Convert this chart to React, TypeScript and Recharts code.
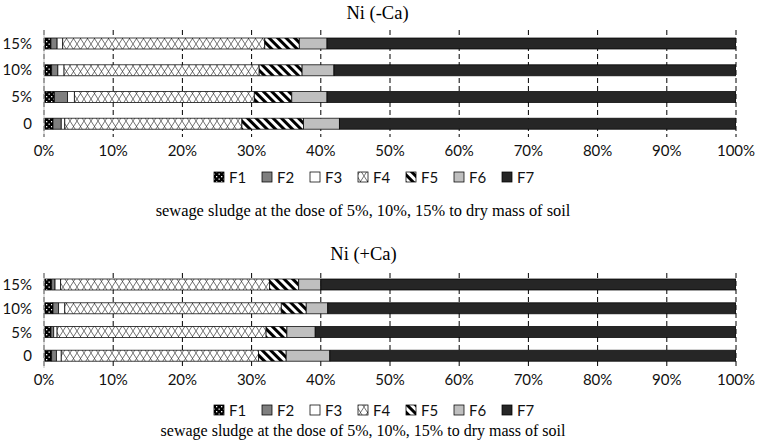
import { BarChart, Bar, XAxis, YAxis, CartesianGrid } from "recharts";

const categories = ["15%", "10%", "5%", "0"];
const fractions = ["F1", "F2", "F3", "F4", "F5", "F6", "F7"];
const xTicks = [0, 10, 20, 30, 40, 50, 60, 70, 80, 90, 100];

// Ni (-Ca), rows follow categories
const noCaF1 = [1.0, 1.1, 1.5, 1.3];
const noCaF2 = [0.9, 0.9, 1.9, 1.2];
const noCaF3 = [0.8, 0.9, 1.0, 0.5];
const noCaF4 = [29.2, 28.2, 26.0, 25.6];
const noCaF5 = [5.0, 6.2, 5.4, 8.9];
const noCaF6 = [4.0, 4.6, 5.1, 5.2];
const noCaF7 = [59.1, 58.1, 59.1, 57.3];

// Ni (+Ca)
const caF1 = [1.1, 1.3, 1.0, 1.1];
const caF2 = [0.5, 0.8, 0.4, 0.7];
const caF3 = [0.8, 0.9, 0.5, 0.7];
const caF4 = [30.2, 31.3, 30.2, 28.5];
const caF5 = [4.2, 3.6, 3.0, 4.0];
const caF6 = [3.2, 3.1, 4.1, 6.3];
const caF7 = [60.0, 59.0, 60.8, 58.7];

const fills: Record<string, string> = {
  F1: "url(#pF1)",
  F2: "#7f7f7f",
  F3: "#ffffff",
  F4: "url(#pF4)",
  F5: "url(#pF5)",
  F6: "#bfbfbf",
  F7: "#262626",
};

const buildRows = (cols: number[][]) =>
  categories.map((name, i) => {
    const row: Record<string, string | number> = { name };
    fractions.forEach((f, k) => (row[f] = cols[k][i]));
    return row;
  });

const noCaRows = buildRows([noCaF1, noCaF2, noCaF3, noCaF4, noCaF5, noCaF6, noCaF7]);
const caRows = buildRows([caF1, caF2, caF3, caF4, caF5, caF6, caF7]);

const tickFont = { fontFamily: "Lato", fontSize: 15, fill: "#111" };
const serif = "'Liberation Serif', 'Times New Roman', serif";

function Patterns() {
  return (
    <svg width={0} height={0} style={{ position: "absolute" }}>
      <defs>
        <pattern id="pF1" patternUnits="userSpaceOnUse" width={5} height={5}>
          <rect width={5} height={5} fill="#000" />
          <rect x={1} y={1} width={1.3} height={1.3} fill="#fff" />
          <rect x={3.5} y={3.5} width={1.3} height={1.3} fill="#fff" />
        </pattern>
        <pattern id="pF4" patternUnits="userSpaceOnUse" width={7} height={11}>
          <rect width={7} height={11} fill="#fff" />
          <line x1={0} y1={0} x2={7} y2={11} stroke="#333" strokeWidth={0.7} />
          <line x1={7} y1={0} x2={0} y2={11} stroke="#333" strokeWidth={0.7} />
        </pattern>
        <pattern id="pF5" patternUnits="userSpaceOnUse" width={6} height={6} patternTransform="rotate(-45)">
          <rect width={6} height={6} fill="#fff" />
          <rect width={3} height={6} fill="#000" />
        </pattern>
      </defs>
    </svg>
  );
}

function Panel({ rows, height, axisH, barSize, tickMargin }: {
  rows: Record<string, string | number>[]; height: number; axisH: number; barSize: number; tickMargin: number;
}) {
  return (
    <BarChart width={760} height={height} data={rows} layout="vertical" barSize={barSize}
      margin={{ top: 30, right: 24, left: 0, bottom: 0 }}>
      <CartesianGrid horizontal={false} stroke="#000" strokeDasharray="5 3" />
      <XAxis type="number" domain={[0, 100]} ticks={xTicks} interval={0} allowDataOverflow
        tickFormatter={(v) => `${v}%`} axisLine={false} tickLine={false} height={axisH}
        tickMargin={tickMargin} tick={tickFont} />
      <YAxis type="category" dataKey="name" width={44} axisLine={{ stroke: "#bfbfbf" }}
        tickLine={false} tickMargin={6} tick={tickFont} />
      {fractions.map((f) => (
        <Bar key={f} dataKey={f} stackId="a" fill={fills[f]} stroke="#000" strokeWidth={0.75}
          isAnimationActive={false} />
      ))}
    </BarChart>
  );
}

function Overlay() {
  const legend = (cy: number) =>
    fractions.map((f, i) => {
      const x = 214 + 48 * i;
      return (
        <g key={f + cy}>
          <rect x={x} y={cy - 5} width={10} height={10} fill={fills[f]} stroke="#000" strokeWidth={0.75} />
          <text x={x + 15} y={cy} dominantBaseline="central" fontFamily="Lato" fontSize={15} fill="#111">{f}</text>
        </g>
      );
    });
  const sub = "sewage sludge at the dose of 5%, 10%, 15% to dry mass of soil";
  return (
    <svg width={760} height={444} style={{ position: "absolute", left: 0, top: 0, pointerEvents: "none" }}>
      <text x={377.5} y={13} textAnchor="middle" dominantBaseline="central" fontFamily={serif} fontSize={18.5}>Ni (-Ca)</text>
      {legend(177)}
      <text x={363} y={210} textAnchor="middle" dominantBaseline="central" fontFamily={serif} fontSize={16.4}>{sub}</text>
      <text x={363.5} y={254} textAnchor="middle" dominantBaseline="central" fontFamily={serif} fontSize={18.5}>Ni (+Ca)</text>
      {legend(410)}
      <text x={363} y={430} textAnchor="middle" dominantBaseline="central" fontFamily={serif} fontSize={16}>{sub}</text>
    </svg>
  );
}

export default function App() {
  return (
    <div style={{ position: "absolute", left: 0, top: 0, width: 760, height: 444, background: "#fff" }}>
      <Patterns />
      <div style={{ position: "absolute", left: 0, top: 0 }}>
        <Panel rows={noCaRows} height={160} axisH={23} barSize={11} tickMargin={2} />
      </div>
      <div style={{ position: "absolute", left: 0, top: 243 }}>
        <Panel rows={caRows} height={150} axisH={25} barSize={11} tickMargin={0} />
      </div>
      <Overlay />
    </div>
  );
}
